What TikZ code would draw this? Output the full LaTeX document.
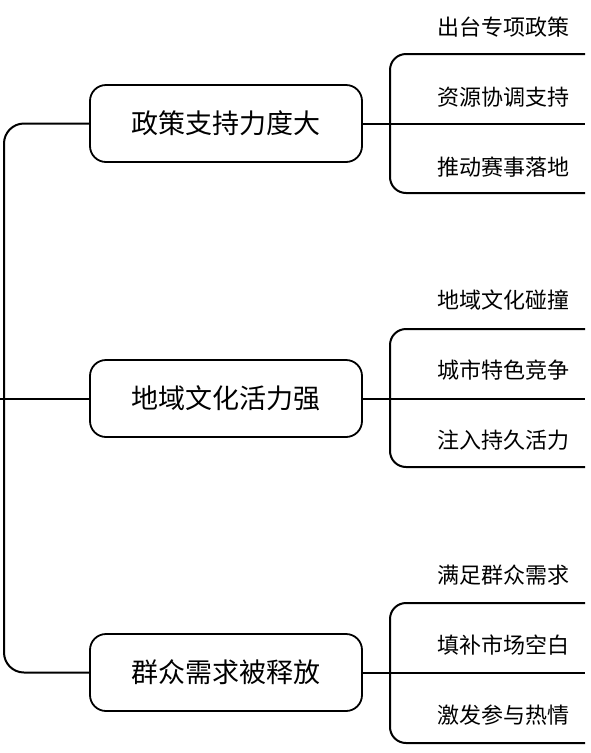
\documentclass[tikz,border=0pt]{standalone}
\usepackage{fontspec}
\newfontfamily\cjk{Noto Sans CJK SC}
\usepackage{tikz}
\usetikzlibrary{calc,positioning}

\begin{document}
\begin{tikzpicture}[
  x=1pt, y=-1pt,
  every node/.style={font=\cjk},
  topic/.style={
    rectangle, rounded corners=16pt, draw=black, line width=1.8pt,
    minimum width=272pt, minimum height=77pt,
    inner sep=0pt, font=\cjk\fontsize{27}{31}\selectfont
  },
  leaf/.style={anchor=east, inner sep=0pt, font=\cjk\fontsize{22}{26}\selectfont},
  link/.style={line width=2pt, black},
]
\useasboundingbox (0,0) rectangle (590,753);

% === Main topics ===
\node[topic] (pol) at (226,123.5) {政策支持力度大};
\node[topic] (cul) at (226,398.5) {地域文化活力强};
\node[topic] (dem) at (226,672.5) {群众需求被释放};

% === Trunk on the left ===
\coordinate (root) at (0,398.5);
\coordinate (trunk) at (4,398.5);
\draw[link, rounded corners=20pt] (pol.west) -- (pol.west -| trunk) -- (dem.west -| trunk) -- (dem.west);
\draw[link] (root) -- (cul.west);

% === Branch 1 ===
\coordinate (j1) at (390,123.5);
\coordinate (e11) at (585,54);
\coordinate (e12) at (585,123.5);
\coordinate (e13) at (585,193);
\draw[link] (pol.east) -- (e12);
\draw[link, rounded corners=16pt] (e11) -- (e11 -| j1) -- (e13 -| j1) -- (e13);
\node[leaf] (l11) at (570,27) {出台专项政策};
\node[leaf] (l12) at (570,97) {资源协调支持};
\node[leaf] (l13) at (570,167) {推动赛事落地};

% === Branch 2 ===
\coordinate (j2) at (390,398.5);
\coordinate (e21) at (585,329);
\coordinate (e22) at (585,398.5);
\coordinate (e23) at (585,467);
\draw[link] (cul.east) -- (e22);
\draw[link, rounded corners=16pt] (e21) -- (e21 -| j2) -- (e23 -| j2) -- (e23);
\node[leaf] (l21) at (570,300) {地域文化碰撞};
\node[leaf] (l22) at (570,370) {城市特色竞争};
\node[leaf] (l23) at (570,440) {注入持久活力};

% === Branch 3 ===
\coordinate (j3) at (390,672.5);
\coordinate (e31) at (585,603);
\coordinate (e32) at (585,672.5);
\coordinate (e33) at (585,743);
\draw[link] (dem.east) -- (e32);
\draw[link, rounded corners=16pt] (e31) -- (e31 -| j3) -- (e33 -| j3) -- (e33);
\node[leaf] (l31) at (570,575) {满足群众需求};
\node[leaf] (l32) at (570,645) {填补市场空白};
\node[leaf] (l33) at (570,715) {激发参与热情};

\end{tikzpicture}
\end{document}
